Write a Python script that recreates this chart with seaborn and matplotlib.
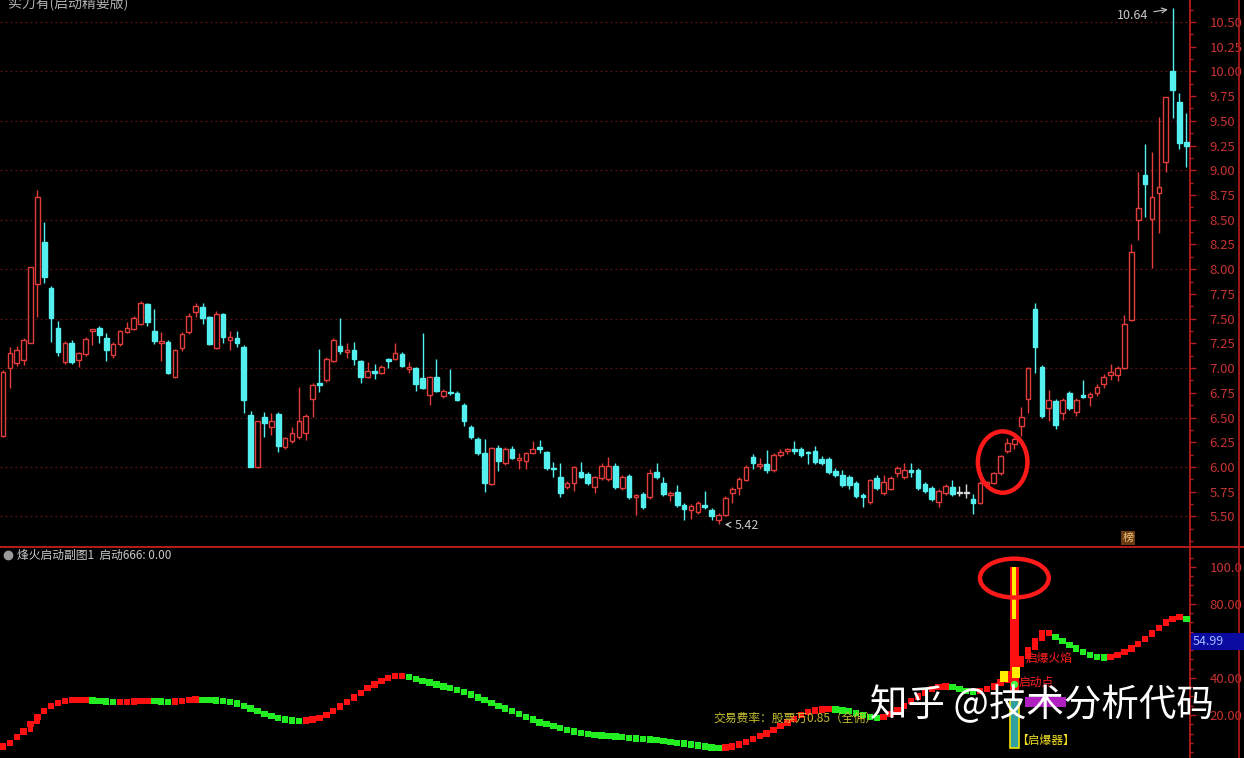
import numpy as np
import pandas as pd
import matplotlib
matplotlib.use("Agg")
import matplotlib.pyplot as plt
from matplotlib.patches import Ellipse, Rectangle
import seaborn as sns

# ---------------- data ----------------
opens = [6.31, 7.00, 7.05, 7.08, 7.25, 7.85, 8.27, 7.81, 7.41, 7.06,
         7.25, 7.08, 7.14, 7.38, 7.41, 7.30, 7.13, 7.24, 7.37, 7.40,
         7.45, 7.65, 7.38, 7.25, 7.26, 6.91, 7.20, 7.37, 7.57, 7.62,
         7.52, 7.20, 7.55, 7.28, 7.30, 7.21, 6.53, 6.00, 6.51, 6.40,
         6.54, 6.20, 6.26, 6.30, 6.34, 6.69, 6.85, 6.88, 7.07, 7.22,
         7.16, 7.18, 7.07, 6.91, 6.97, 6.95, 7.09, 7.09, 7.14, 6.99,
         7.00, 6.90, 6.73, 6.91, 6.72, 6.76, 6.75, 6.63, 6.40, 6.28,
         6.14, 5.83, 6.19, 6.04, 6.18, 6.07, 6.06, 6.14, 6.20, 6.15,
         5.99, 5.90, 5.80, 5.84, 5.95, 5.93, 5.80, 5.89, 5.88, 6.01,
         5.79, 5.91, 5.70, 5.73, 5.70, 5.95, 5.84, 5.72, 5.75, 5.62,
         5.57, 5.54, 5.62, 5.57, 5.46, 5.51, 5.74, 5.79, 5.87, 6.10,
         6.01, 6.03, 5.97, 6.12, 6.16, 6.18, 6.18, 6.15, 6.16, 6.08,
         6.08, 5.96, 5.92, 5.90, 5.84, 5.71, 5.65, 5.89, 5.74, 5.78,
         5.94, 5.90, 5.97, 5.97, 5.83, 5.79, 5.65, 5.74, 5.80, 5.74,
         5.74, 5.68, 5.64, 5.83, 5.84, 5.94, 6.16, 6.23, 6.41, 6.69,
         7.60, 7.01, 6.60, 6.67, 6.55, 6.75, 6.56, 6.73, 6.71, 6.75,
         6.84, 6.93, 6.93, 7.00, 7.49, 8.50, 8.95, 8.51, 8.77, 9.08,
         10.00, 9.69, 9.29]
highs = [6.98, 7.21, 7.22, 7.30, 8.02, 8.80, 8.48, 7.83, 7.48, 7.27,
         7.28, 7.16, 7.31, 7.40, 7.43, 7.35, 7.26, 7.39, 7.47, 7.53,
         7.68, 7.66, 7.60, 7.36, 7.28, 7.19, 7.37, 7.56, 7.66, 7.66,
         7.53, 7.58, 7.56, 7.38, 7.38, 7.23, 6.57, 6.47, 6.56, 6.55,
         6.56, 6.30, 6.40, 6.81, 6.54, 6.85, 7.19, 7.11, 7.30, 7.51,
         7.25, 7.26, 7.08, 7.06, 7.04, 7.03, 7.10, 7.25, 7.16, 7.06,
         7.01, 7.35, 6.92, 7.09, 6.79, 6.99, 6.77, 6.65, 6.42, 6.30,
         6.28, 6.20, 6.22, 6.20, 6.21, 6.14, 6.15, 6.26, 6.27, 6.16,
         6.05, 6.04, 5.86, 6.01, 6.05, 5.95, 5.91, 6.04, 6.10, 6.04,
         5.92, 5.93, 5.73, 5.75, 5.98, 6.04, 5.90, 5.76, 5.82, 5.64,
         5.63, 5.66, 5.76, 5.59, 5.53, 5.71, 5.80, 5.90, 6.02, 6.13,
         6.09, 6.17, 6.14, 6.18, 6.19, 6.26, 6.20, 6.16, 6.21, 6.11,
         6.10, 5.99, 5.97, 5.92, 5.86, 5.74, 5.88, 5.92, 5.92, 5.91,
         6.01, 6.04, 6.04, 5.99, 5.85, 5.81, 5.78, 5.83, 5.87, 5.81,
         5.83, 5.73, 5.86, 5.86, 5.95, 6.12, 6.29, 6.30, 6.61, 7.01,
         7.66, 7.03, 6.78, 6.69, 6.70, 6.77, 6.70, 6.88, 6.76, 6.84,
         6.94, 7.04, 7.02, 7.54, 8.25, 8.98, 9.27, 9.18, 9.54, 9.74,
         10.64, 9.78, 9.58]
lows = [6.30, 6.80, 7.02, 7.03, 7.25, 7.52, 7.86, 7.26, 7.12, 7.04,
        7.04, 7.01, 7.12, 7.23, 7.25, 7.07, 7.10, 7.22, 7.35, 7.39,
        7.44, 7.43, 7.24, 7.07, 6.94, 6.90, 7.17, 7.34, 7.52, 7.45,
        7.23, 7.19, 7.25, 7.18, 7.21, 6.55, 6.00, 5.99, 6.30, 6.32,
        6.15, 6.18, 6.24, 6.28, 6.27, 6.51, 6.76, 6.86, 7.06, 7.14,
        7.10, 7.03, 6.85, 6.90, 6.89, 6.94, 7.00, 7.08, 7.01, 6.95,
        6.77, 6.79, 6.63, 6.76, 6.70, 6.73, 6.67, 6.41, 6.28, 6.12,
        5.75, 5.82, 5.96, 6.02, 6.08, 5.98, 5.98, 6.13, 6.14, 5.97,
        5.90, 5.70, 5.78, 5.76, 5.89, 5.82, 5.74, 5.87, 5.86, 5.78,
        5.77, 5.68, 5.51, 5.58, 5.68, 5.88, 5.71, 5.66, 5.60, 5.46,
        5.47, 5.52, 5.58, 5.46, 5.42, 5.50, 5.64, 5.72, 5.86, 5.98,
        5.98, 5.94, 5.95, 6.10, 6.13, 6.13, 6.10, 6.03, 6.03, 6.02,
        5.93, 5.90, 5.80, 5.78, 5.69, 5.60, 5.63, 5.77, 5.72, 5.77,
        5.90, 5.88, 5.90, 5.77, 5.74, 5.66, 5.60, 5.72, 5.71, 5.71,
        5.69, 5.52, 5.63, 5.81, 5.83, 5.92, 6.14, 6.18, 6.31, 6.55,
        6.95, 6.50, 6.46, 6.38, 6.48, 6.58, 6.52, 6.70, 6.62, 6.72,
        6.80, 6.88, 6.87, 6.99, 7.48, 8.30, 8.53, 8.01, 8.37, 8.98,
        9.53, 9.22, 9.03]
closes = [6.96, 7.15, 7.18, 7.28, 8.02, 8.73, 7.92, 7.51, 7.16, 7.25,
          7.06, 7.15, 7.29, 7.40, 7.33, 7.18, 7.24, 7.38, 7.41, 7.51,
          7.66, 7.47, 7.27, 7.27, 6.95, 7.18, 7.34, 7.53, 7.63, 7.51,
          7.24, 7.55, 7.31, 7.31, 7.25, 6.68, 6.00, 6.46, 6.44, 6.46,
          6.21, 6.29, 6.34, 6.47, 6.52, 6.83, 6.83, 7.09, 7.28, 7.17,
          7.18, 7.09, 6.91, 6.97, 6.95, 7.01, 7.07, 7.15, 7.02, 7.01,
          6.84, 6.80, 6.91, 6.77, 6.77, 6.75, 6.68, 6.46, 6.30, 6.14,
          5.84, 6.19, 6.06, 6.18, 6.09, 6.09, 6.14, 6.18, 6.18, 5.99,
          5.98, 5.74, 5.84, 6.00, 5.90, 5.84, 5.90, 6.01, 6.01, 5.80,
          5.90, 5.70, 5.72, 5.60, 5.94, 5.90, 5.73, 5.74, 5.62, 5.58,
          5.61, 5.64, 5.60, 5.50, 5.51, 5.69, 5.78, 5.88, 6.00, 6.04,
          6.03, 5.97, 6.12, 6.15, 6.18, 6.16, 6.12, 6.14, 6.05, 6.04,
          5.95, 5.92, 5.82, 5.82, 5.71, 5.70, 5.87, 5.79, 5.85, 5.89,
          5.99, 5.97, 5.95, 5.79, 5.76, 5.68, 5.76, 5.81, 5.73, 5.74,
          5.74, 5.64, 5.84, 5.85, 5.94, 6.11, 6.24, 6.28, 6.51, 7.00,
          7.21, 6.52, 6.68, 6.42, 6.68, 6.60, 6.68, 6.71, 6.74, 6.81,
          6.91, 6.96, 7.00, 7.45, 8.17, 8.62, 8.86, 8.73, 8.83, 9.74,
          9.81, 9.28, 9.25]

indicator = [3, 5, 8, 11, 15, 19, 22, 25, 26.5, 27.5,
             28, 28, 28, 27.8, 27.5, 27.3, 27, 27, 27, 27.2,
             27.5, 27.6, 27.5, 27.3, 27, 27.2, 27.5, 28, 28.3, 28.2,
             28, 27.8, 27.5, 27, 26.3, 25, 23.5, 22, 20.5, 19.5,
             18.5, 17.5, 17, 16.8, 17, 17.5, 18.5, 20, 22, 24.5,
             27, 29.5, 32, 34.5, 36.5, 38.5, 40, 41, 41.2, 40.5,
             39.5, 38.5, 37.5, 36.5, 35.5, 34.5, 33.5, 32.5, 31, 29.5,
             28, 26.5, 25, 23.5, 22, 20.5, 19, 17.5, 16, 15,
             14, 13, 12, 11, 10.3, 9.7, 9.3, 9, 8.7, 8.3,
             8, 7.7, 7.3, 7, 6.8, 6.5, 6, 5.5, 5, 4.5,
             4, 3.5, 3, 2.5, 2.2, 2.5, 3, 4, 5.5, 7,
             8.5, 10, 12, 14, 16, 18, 20, 21.5, 22.5, 23,
             23.2, 23, 22.5, 22, 21, 20, 19, 18.5, 19, 20.5,
             22.5, 25, 27.5, 30, 32, 34, 35, 35.5, 35, 34,
             33, 32.5, 33, 34, 35.5, 37.5, 42, 46, 50, 55,
             60, 64, 64.2, 62, 60, 58, 56, 54, 52.5, 51.5,
             51, 51.5, 52.5, 54, 56, 58.5, 61, 64, 67, 70,
             72, 73, 72]

price_ticks = [5.50, 5.75, 6.00, 6.25, 6.50, 6.75, 7.00, 7.25, 7.50, 7.75,
               8.00, 8.25, 8.50, 8.75, 9.00, 9.25, 9.50, 9.75, 10.00, 10.25, 10.50]
price_grid = [5.5, 6.0, 6.5, 7.0, 7.5, 8.0, 8.5, 9.0, 9.5, 10.0, 10.5]
ind_ticks = [20, 40, 80, 100]
ind_tick_labels = ["20.00", "40.00", "80.00", "100.0"]

spike_index = 147
spike_low, spike_high = 33, 100
spike_core_low = 72
detonator_low, detonator_high = 2, 28
last_label = "54.99"
high_label, low_label = "10.64", "5.42"
high_index, low_index = 170, 104

# ---------------- style ----------------
sns.set_theme(style="dark")
plt.rcParams['font.family'] = ['Noto Sans CJK SC', 'DejaVu Sans']
plt.rcParams['axes.unicode_minus'] = False

BG = "#000000"
UP = "#e23c3c"
DOWN = "#54f0f0"
AXRED = "#b81c1c"
LBLRED = "#c83232"

fig = plt.figure(figsize=(12.44, 7.58), dpi=100, facecolor=BG)
W, H = 1244, 758
ax = fig.add_axes([0, 1 - 547 / H, 1190 / W, 547 / H])
axb = fig.add_axes([0, 0, 1190 / W, 211 / H])

n = len(closes)
idx = np.arange(n)
df = pd.DataFrame({"i": idx, "o": opens, "h": highs, "l": lows, "c": closes})
df["up"] = df["c"] >= df["o"]

xlim = (-3 / 6.88, (1190 - 3) / 6.88)

for a in (ax, axb):
    a.set_facecolor(BG)
    a.set_xlim(*xlim)
    for s in ("left", "top", "bottom"):
        a.spines[s].set_visible(False)
    a.spines["right"].set_color(AXRED)
    a.spines["right"].set_linewidth(1.3)
    a.yaxis.tick_right()
    a.set_xticks([])
    a.grid(False)
    a.tick_params(axis="y", colors=AXRED, labelcolor=LBLRED, labelsize=9.5,
                  length=4, width=1, pad=10, direction="out")

# ---------------- top panel: candles ----------------
ax.set_ylim(5.191, 10.722)
for g in price_grid:
    ax.axhline(g, color="#5e1414", lw=0.9, ls=(0, (1.5, 2.5)), zorder=0)

def ccolor(r):
    if abs(r.c - r.o) < 0.004:
        return "#d8d8d8"
    return UP if r.up else DOWN

cols = [ccolor(r) for r in df.itertuples()]
ax.vlines(df["i"], df["l"], df["h"], colors=cols, lw=1.0, zorder=2)
bh = np.maximum((df["c"] - df["o"]).abs().values, 0.012)
bb = np.minimum(df["c"], df["o"]).values
face = [BG if (r.up and abs(r.c - r.o) >= 0.004) else cc for r, cc in zip(df.itertuples(), cols)]
ax.bar(df["i"], bh, bottom=bb, width=0.68, color=face, edgecolor=cols, linewidth=1.0, zorder=3)

ax.set_yticks(price_ticks)
ax.set_yticklabels([f"{t:.2f}" for t in price_ticks])
ax.set_yticks(np.arange(5.25, 10.75, 0.125), minor=True)
ax.tick_params(axis="y", which="minor", length=2, colors=AXRED)

ax.annotate(high_label, xy=(high_index - 0.3, highs[high_index] - 0.01), xytext=(high_index - 3.6, 10.57),
            color="#c8c8c8", fontsize=9, ha="right", va="center",
            arrowprops=dict(arrowstyle="->", color="#c8c8c8", lw=0.8))
ax.annotate(low_label, xy=(low_index + 0.5, lows[low_index]), xytext=(low_index + 2.3, 5.41),
            color="#c8c8c8", fontsize=9, ha="left", va="center",
            arrowprops=dict(arrowstyle="->", color="#c8c8c8", lw=0.8))
ax.add_patch(Ellipse((145.3, 6.05), 7.2, 0.62, fill=False, ec="#ff1a1a", lw=3.2, zorder=5))
ax.text(163.5, 5.28, "榜", color="#f0c080", fontsize=8, ha="center", va="center",
        bbox=dict(boxstyle="square,pad=0.15", fc="#6a3a10", ec="none"))

# ---------------- bottom panel: indicator ----------------
axb.set_ylim(-3.24, 110.8)
axb.set_yticks(ind_ticks)
axb.set_yticklabels(ind_tick_labels)
axb.set_yticks(np.arange(0, 110, 5), minor=True)
axb.tick_params(axis="y", which="minor", length=2, colors=AXRED)

ind = np.array(indicator, dtype=float)
diff = np.diff(np.concatenate([[ind[0] - 1], ind]))
direction = np.where(diff >= 0, "up", "down")
idf = pd.DataFrame({"i": idx, "v": ind, "dir": direction})
pal = {"up": "#ff1010", "down": "#22ee22"}

prev = np.concatenate([[ind[0]], ind[:-1]])
jump = np.abs(ind - prev) > 3
for_bars = idf[jump]
axb.bar(for_bars["i"], np.abs(ind - prev)[jump], bottom=np.minimum(ind, prev)[jump],
        width=0.85, color=[pal[d] for d in for_bars["dir"]], linewidth=0, zorder=3)
sns.scatterplot(data=idf, x="i", y="v", hue="dir", palette=pal, marker="s", s=21,
                linewidth=0, legend=False, ax=axb, zorder=4)
axb.set_xlabel("")
axb.set_ylabel("")
axb.set_xlim(*xlim)

# spike
axb.bar([spike_index], [spike_high - spike_low], bottom=[spike_low], width=1.4,
        color="#ff1010", linewidth=0, zorder=5)
axb.bar([spike_index], [spike_high - spike_core_low], bottom=[spike_core_low], width=0.6,
        color="#ffee00", linewidth=0, zorder=6)
axb.bar([spike_index - 1.5, spike_index + 0.2], [6, 6], bottom=[38, 40], width=1.2,
        color="#ffee00", linewidth=0, zorder=6)
axb.bar([spike_index], [detonator_high - detonator_low], bottom=[detonator_low], width=1.3,
        color="#30a0a0", edgecolor="#f0e000", linewidth=1.2, zorder=5)
axb.bar([spike_index + 4.5], [5], bottom=[24.5], width=6, color="#b020c0", linewidth=0, zorder=5)
axb.scatter([spike_index], [37], s=18, color="#40ff40", zorder=7)
axb.add_patch(Ellipse((spike_index, 94), 10.0, 21, fill=False, ec="#ff1a1a", lw=3.2, zorder=8))

axb.text(148.7, 50.5, "启爆火焰", color="#ff2020", fontsize=8.5, ha="left", va="center", zorder=9)
axb.text(147.6, 37.5, "启动点", color="#ff2020", fontsize=8.5, ha="left", va="center", zorder=9)
axb.text(147.3, 6, "【启爆器】", color="#f0e020", fontsize=8.5, ha="left", va="center", zorder=9)
axb.text(103.3, 18.2, "交易费率：股票万0.85（全佣）", color="#c8c030", fontsize=8.5,
         ha="left", va="center", zorder=9)

# ---------------- frame lines / labels ----------------
fig.add_artist(plt.Line2D([0, 1], [1 - 547 / H, 1 - 547 / H], color=AXRED, lw=1.4))
fig.add_artist(plt.Line2D([1239 / W, 1239 / W], [0, 1], color=AXRED, lw=1.2))
fig.add_artist(Rectangle((1191 / W, 1 - 650 / H), 53 / W, 17 / H, transform=fig.transFigure,
                         fc="#0a0aa0", ec="none", zorder=10))
fig.text(1193 / W, 1 - 641.5 / H, last_label, color="#a0b8ff", fontsize=9, ha="left", va="center",
         zorder=11)

fig.add_artist(plt.Line2D([8 / W], [1 - 555 / H], marker="o", color="#9a9a9a", markersize=6,
                          transform=fig.transFigure))
fig.text(17 / W, 1 - 555 / H, "烽火启动副图1  启动666: 0.00", color="#c8c8c8", fontsize=8.5,
         ha="left", va="center")
fig.text(8 / W, 1 - 3 / H, "实力有(启动精要版)", color="#b0b0b0", fontsize=10,
         ha="left", va="center")

fig.text(870 / W, 1 - 706 / H, "知乎 @技术分析代码", color="#ffffff", fontsize=27,
         ha="left", va="center", zorder=20)

fig.savefig("out.png", dpi=100, facecolor=BG)
